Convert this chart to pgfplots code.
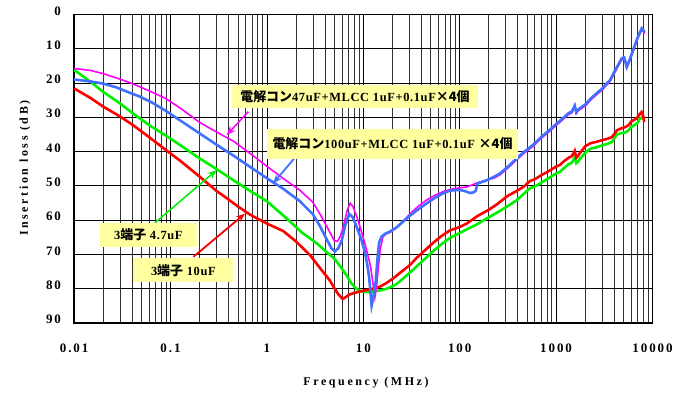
\documentclass[border=0pt]{standalone}
\usepackage{fontspec}
\setmainfont{Liberation Serif}
\newfontfamily\lblfont[LetterSpace=15]{Liberation Serif}
\newfontfamily\axfont[LetterSpace=22]{Liberation Serif}
\newfontfamily\boxfont[LetterSpace=5]{Liberation Serif}
\newfontfamily\cjk{Noto Sans CJK JP}
\usepackage{pgfplots}
\pgfplotsset{compat=1.18}
\usetikzlibrary{arrows.meta}
\definecolor{cmag}{RGB}{255,0,255}
\definecolor{cblue}{RGB}{64,112,255}
\definecolor{cred}{RGB}{255,0,0}
\definecolor{cgreen}{RGB}{0,240,0}
\definecolor{boxy}{RGB}{255,255,160}
\begin{document}
\begin{tikzpicture}
\useasboundingbox (-74.1bp,-72bp) rectangle (609.9bp,323bp);
\begin{axis}[
  scale only axis, width=578.4bp, height=308.7bp,
  xmode=log, xmin=0.01, xmax=10000, ymin=0, ymax=90, y dir=reverse,
  xtick={0.01,0.1,1,10,100,1000,10000},
  xticklabels={0.01,0.1,1,10,100,1000,10000},
  minor xtick={0.02,0.03,0.04,0.05,0.06,0.07,0.08,0.09,0.2,0.3,0.4,0.5,0.6,0.7,0.8,0.9,2,3,4,5,6,7,8,9,20,30,40,50,60,70,80,90,200,300,400,500,600,700,800,900,2000,3000,4000,5000,6000,7000,8000,9000},
  ytick={0,10,20,30,40,50,60,70,80,90},
  xmajorgrids=true, xminorgrids=true, ymajorgrids=true,
  major grid style={black, line width=0.7bp},
  minor grid style={black!80, line width=0.5bp},
  major tick length=0pt, minor tick length=0pt,
  axis line style={black, line width=1.2bp},
  /pgf/number format/assume math mode=true,
  ticklabel style={font=\lblfont\bfseries\fontsize{13}{13}\selectfont},
  xticklabel style={anchor=center, yshift=-25bp},
  yticklabel style={anchor=east, inner sep=0pt, xshift=-13bp, yshift=3.5bp},
  xlabel={Frequency (MHz)},
  ylabel={Insertion loss (dB)},
  label style={font=\axfont\bfseries\fontsize{12}{12}\selectfont},
  xlabel style={at={(axis description cs:0.5047,-0.1944)}, anchor=center},
  ylabel style={at={(axis description cs:-0.0847,0.502)}, anchor=center},
]
\addplot[cgreen, line width=2.6bp] coordinates {
(0.01,16.2)(0.015,19.8)(0.02,22.6)(0.03,26.0)(0.0408,28.9)(0.06,32.3)(0.09,35.4)(0.13,38.4)(0.2,42.0)(0.3,45.1)(0.45,48.4)(0.68,51.6)(1.0,54.5)(1.6,59.5)(2.3,63.6)(3.3,66.8)(4.2,69.4)(5.08,71.4)(6.0,74.2)(6.73,76.2)(7.6,78.6)(8.56,80.1)(9.6,80.8)(11,81.0)(12.7,80.8)(15.0,80.5)(17.5,80.0)(20,79.3)(22.2,78.6)(26,77.0)(30.5,75.3)(35.8,73.5)(44,71.2)(53.2,69.0)(65,67.0)(79.3,65.2)(100,63.8)(120,62.6)(150,61.3)(176,60.1)(215,58.7)(262,57.3)(320,55.8)(390,54.2)(460,52.4)(536,50.7)(600,50.2)(693,49.2)(780,48.3)(865,47.5)(1000,46.4)(1100,45.9)(1188,45.0)(1350,43.7)(1450,43.3)(1508,42.6)(1560,41.5)(1620,43.4)(1700,42.9)(1750,42.3)(2000,40.4)(2270,39.2)(2600,38.8)(3000,38.2)(3400,37.8)(3800,37.2)(4285,35.0)(4800,34.6)(5200,34.5)(5670,33.8)(6000,32.8)(6600,32.2)(7000,31.6)(7410,30.4)(7800,30.0)(8200,30.8)
};
\addplot[cred, line width=2.6bp] coordinates {
(0.01,21.6)(0.015,24.5)(0.02,26.9)(0.03,29.8)(0.0408,32.3)(0.06,35.8)(0.09,39.6)(0.13,43.0)(0.2,47.3)(0.3,51.5)(0.383,53.6)(0.5,56.0)(0.668,58.4)(1.0,61.0)(1.48,63.2)(2.0,66.2)(2.8,70.2)(3.56,74.0)(4.5,77.6)(5.0,79.8)(5.5,81.6)(6.11,83.0)(6.6,82.4)(7.28,81.6)(8.2,81.2)(9.24,80.8)(11.7,80.2)(14.9,79.4)(17.5,78.3)(20.4,77.0)(24,75.4)(30.5,73.1)(35.8,71.0)(44,68.7)(53.2,66.6)(65,64.6)(79.3,63.0)(100,62.0)(120,60.9)(153,58.8)(200,57.0)(246,55.3)(312,53.0)(390,51.5)(465,50.2)(536,48.6)(600,48.1)(693,47.0)(780,46.2)(865,45.5)(1000,44.4)(1100,43.9)(1188,43.0)(1350,41.8)(1450,41.4)(1508,40.6)(1560,39.8)(1620,41.8)(1700,41.2)(1750,40.6)(2000,38.5)(2270,37.6)(2600,37.2)(3000,36.7)(3400,36.3)(3800,35.8)(4285,33.8)(4800,33.2)(5200,32.9)(5670,32.3)(6000,31.3)(6600,30.6)(7000,30.0)(7410,29.0)(7700,28.5)(8000,29.6)(8200,31.4)
};
\addplot[cmag, line width=1.6bp] coordinates {
(0.01,15.8)(0.015,16.4)(0.02,17.3)(0.03,18.9)(0.04,20.2)(0.06,22.3)(0.09,24.6)(0.13,27.6)(0.2,31.5)(0.3,34.3)(0.45,37.0)(0.65,40.3)(1.0,44.3)(1.5,48.0)(2.2,51.3)(3.0,54.8)(3.6,58.5)(4.3,62.5)(5.0,66.0)(5.4,66.2)(5.8,64.6)(6.2,62.0)(6.8,57.2)(7.3,55.1)(7.8,56.0)(8.6,59.2)(9.5,63.0)(10.4,66.9)(11.2,70.5)(11.9,73.5)(12.6,78.5)(13.2,82.5)(13.7,79.5)(14.3,74.0)(15.0,68.5)(16.0,64.8)(17.5,63.9)(19.0,63.6)(22,62.2)(26,60.3)(30.5,58.2)(36,56.3)(45,54.2)(55,52.8)(70,51.5)(85,50.9)(100,50.6)(120,50.3)(150,49.2)(190,48.3)(230,47.7)(262,46.8)(320,44.7)(390,42.4)(470,40.4)(581,38.4)(700,36.2)(865,34.0)(1000,32.4)(1188,30.6)(1350,29.2)(1450,28.8)(1508,27.9)(1560,27.0)(1620,28.9)(1700,28.1)(2031,26.6)(2300,24.9)(2686,23.2)(3000,22.1)(3350,20.6)(3620,19.6)(4200,16.2)(4800,13.2)(5100,13.0)(5400,15.7)(5800,13.6)(6500,9.7)(7000,7.2)(7730,4.5)(8000,5.0)(8300,5.6)
};
\addplot[cblue, line width=2.6bp] coordinates {
(0.01,19.0)(0.015,19.6)(0.02,20.2)(0.0274,21.3)(0.035,22.5)(0.048,24.0)(0.065,25.8)(0.09,28.2)(0.13,31.2)(0.2,34.7)(0.3,38.0)(0.45,41.2)(0.68,44.6)(1.0,47.8)(1.5,51.0)(2.2,54.5)(3.0,58.3)(3.56,61.8)(4.2,65.8)(4.7,68.3)(5.08,69.1)(5.5,68.2)(5.97,66.0)(6.5,61.5)(7.16,58.2)(7.8,59.2)(8.56,62.1)(9.5,65.5)(10.4,69.4)(11.0,73.0)(11.5,76.7)(11.9,81.5)(12.2,84.9)(12.6,83.0)(13.0,80.5)(13.5,77.6)(14.0,71.5)(14.6,66.5)(15.5,64.8)(16.8,64.0)(19,63.3)(22.2,62.1)(26,60.4)(30.5,58.7)(35.8,57.2)(45,55.2)(53.2,53.8)(65,52.4)(79.3,51.4)(100,51.2)(115,51.6)(128,52.1)(140,51.9)(147,51.4)(153,49.3)(170,48.9)(190,48.4)(230,47.3)(262,46.4)(320,44.3)(390,42.0)(470,40.0)(581,38.0)(700,35.8)(865,33.6)(1000,32.0)(1188,30.2)(1350,28.8)(1450,28.4)(1508,27.5)(1560,26.6)(1620,28.6)(1700,27.7)(2031,26.2)(2300,24.5)(2686,22.8)(3000,21.7)(3350,20.2)(3620,19.2)(4200,15.8)(4800,12.8)(5100,12.6)(5400,15.3)(5800,13.2)(6500,9.3)(7000,6.8)(7730,4.1)(8000,4.6)(8300,5.2)
};
% annotation arrows
\draw[cmag, line width=1.5bp, -{Stealth[length=9bp,width=7bp]}] (axis cs:0.641,28.4) -- (axis cs:0.383,35.2);
\draw[cblue, line width=1.8bp, -{Stealth[length=9bp,width=7bp]}] (axis cs:2.59,37.7) -- (axis cs:1.16,49.3);
\draw[cgreen, line width=1.5bp, -{Stealth[length=9bp,width=7bp]}] (axis cs:0.069,60.8) -- (axis cs:0.301,45.4);
\draw[cred, line width=1.8bp, -{Stealth[length=9bp,width=7bp]}] (axis cs:0.173,70.7) -- (axis cs:0.593,58.1);
% annotation boxes
\node[fill=boxy, inner sep=0pt, minimum width=246.6bp, minimum height=23.3bp, font=\boxfont\bfseries\fontsize{12.5}{12.5}\selectfont] at (axis cs:8.2,24.0) {{\cjk\bfseries\fontsize{13}{13}\selectfont 電解コン}47uF+MLCC 1uF+0.1uF{\cjk\bfseries\fontsize{13}{13}\selectfont ×4個}};
\node[fill=boxy, inner sep=0pt, minimum width=251.6bp, minimum height=30bp, font=\boxfont\bfseries\fontsize{12.5}{12.5}\selectfont] at (axis cs:20.1,37.7) {{\cjk\bfseries\fontsize{13}{13}\selectfont 電解コン}100uF+MLCC 1uF+0.1uF {\cjk\bfseries\fontsize{13}{13}\selectfont ×4個}};
\node[fill=boxy, inner sep=0pt, minimum width=96.7bp, minimum height=23.4bp, font=\boxfont\bfseries\fontsize{12.5}{12.5}\selectfont] at (axis cs:0.0589,64.3) {3{\cjk\bfseries\fontsize{13}{13}\selectfont 端子} 4.7uF};
\node[fill=boxy, inner sep=0pt, minimum width=100bp, minimum height=23.4bp, font=\boxfont\bfseries\fontsize{12.5}{12.5}\selectfont] at (axis cs:0.136,74.6) {3{\cjk\bfseries\fontsize{13}{13}\selectfont 端子} 10uF};
\end{axis}
\end{tikzpicture}
\end{document}
